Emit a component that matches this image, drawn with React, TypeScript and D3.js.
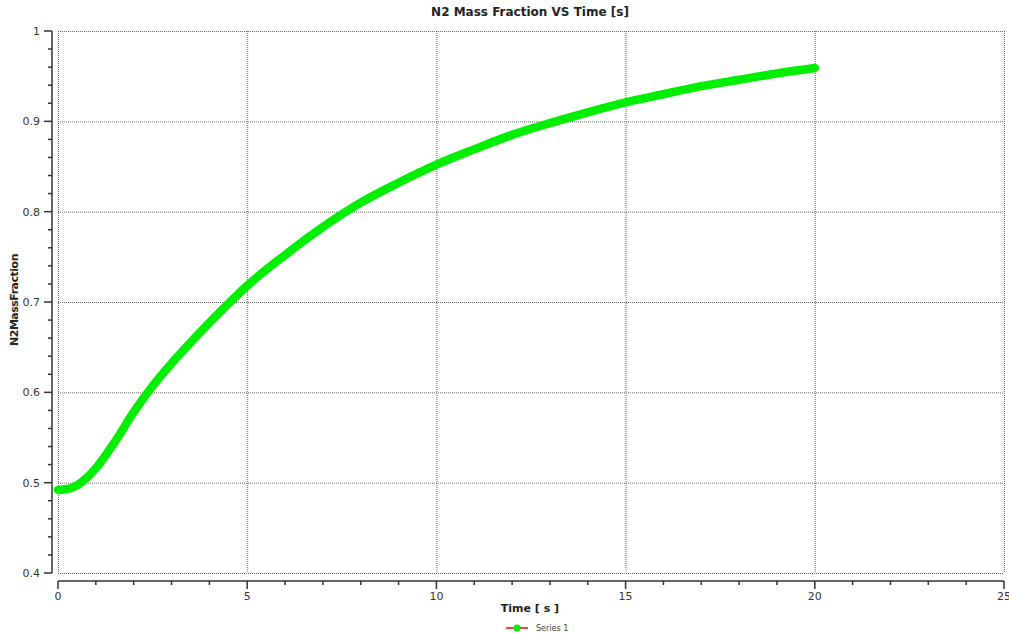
import * as d3 from 'd3';
import { useEffect, useRef } from 'react';

const times = [0, 0.25, 0.5, 0.75, 1, 1.5, 2, 2.5, 3, 3.5, 4, 4.5, 5, 6, 7, 8, 9, 10, 11, 12, 13, 14, 15, 16, 17, 18, 19, 20];
const massFraction = [0.492, 0.493, 0.497, 0.505, 0.516, 0.545, 0.578, 0.607, 0.632, 0.655, 0.677, 0.698, 0.718, 0.752, 0.783, 0.81, 0.832, 0.852, 0.869, 0.885, 0.898, 0.91, 0.921, 0.93, 0.939, 0.946, 0.953, 0.959];
const xTicks = [0, 5, 10, 15, 20, 25];
const yTicks = [0.4, 0.5, 0.6, 0.7, 0.8, 0.9, 1];

export default function App() {
  const ref = useRef<SVGSVGElement>(null);

  useEffect(() => {
    const width = 1009;
    const height = 633;
    const svg = d3.select(ref.current);
    svg.selectAll('*').remove();

    const x = d3.scaleLinear().domain([0, 25]).range([58, 1004]);
    const y = d3.scaleLinear().domain([0.4, 1]).range([573, 31]);
    const font = 'Tahoma, "DejaVu Sans", sans-serif';

    svg.attr('width', width).attr('height', height).style('display', 'block');

    // grid
    const grid = svg.append('g').attr('stroke', '#666').attr('stroke-dasharray', '1,1').attr('stroke-width', 1);
    xTicks.forEach(t => {
      grid.append('line').attr('x1', x(t) + 0.5).attr('x2', x(t) + 0.5).attr('y1', y(1)).attr('y2', y(0.4));
    });
    yTicks.forEach(t => {
      grid.append('line').attr('x1', x(0)).attr('x2', x(25)).attr('y1', y(t) + 0.5).attr('y2', y(t) + 0.5);
    });

    // y axis
    const yAxis = svg.append('g').attr('stroke', '#333').attr('stroke-width', 1.5);
    yAxis.append('line').attr('x1', 52).attr('x2', 52).attr('y1', y(1)).attr('y2', y(0.4));
    d3.range(0.4, 1.0001, 0.02).forEach(v => {
      const major = Math.abs(v * 10 - Math.round(v * 10)) < 1e-6;
      yAxis.append('line').attr('x1', major ? 44 : 48).attr('x2', 52).attr('y1', y(v)).attr('y2', y(v));
    });
    svg.append('g').selectAll('text').data(yTicks).enter().append('text')
      .attr('x', 40).attr('y', d => y(d) + 4)
      .attr('text-anchor', 'end')
      .style('font-family', font).style('font-size', '11px').attr('fill', '#333')
      .text(d => d3.format('')(+d.toFixed(1)));

    // x axis
    const xAxis = svg.append('g').attr('stroke', '#333').attr('stroke-width', 1.5);
    xAxis.append('line').attr('x1', x(0)).attr('x2', x(25)).attr('y1', 581).attr('y2', 581);
    d3.range(0, 25.001, 1).forEach(v => {
      const major = v % 5 === 0;
      xAxis.append('line').attr('x1', x(v)).attr('x2', x(v)).attr('y1', 581).attr('y2', major ? 589 : 585);
    });
    svg.append('g').selectAll('text').data(xTicks).enter().append('text')
      .attr('x', d => x(d)).attr('y', 600)
      .attr('text-anchor', 'middle')
      .style('font-family', font).style('font-size', '11px').attr('fill', '#333')
      .text(d => d);

    // series
    const pts = times.map((t, i) => [t, massFraction[i]] as [number, number]);
    svg.append('path')
      .datum(pts)
      .attr('d', d3.line().x(d => x(d[0])).y(d => y(d[1])).curve(d3.curveMonotoneX))
      .attr('fill', 'none')
      .attr('stroke', '#00ee00')
      .attr('stroke-width', 8.5)
      .attr('stroke-linecap', 'round')
      .attr('stroke-linejoin', 'round');

    // titles
    svg.append('text').attr('x', 530).attr('y', 16).attr('text-anchor', 'middle')
      .style('font-family', font).style('font-size', '12px').style('font-weight', 'bold').attr('fill', '#222')
      .text('N2 Mass Fraction VS Time [s]');
    svg.append('text').attr('x', 530).attr('y', 612).attr('text-anchor', 'middle')
      .style('font-family', font).style('font-size', '11px').style('font-weight', 'bold').attr('fill', '#222')
      .text('Time [ s ]');
    svg.append('text').attr('transform', 'translate(18,300) rotate(-90)').attr('text-anchor', 'middle')
      .style('font-family', font).style('font-size', '11px').style('font-weight', 'bold').attr('fill', '#222')
      .style('letter-spacing', '-0.5px')
      .text('N2MassFraction');

    // legend
    const lg = svg.append('g').attr('transform', 'translate(506,628)');
    lg.append('line').attr('x1', 0).attr('x2', 22).attr('y1', 0).attr('y2', 0).attr('stroke', '#ff0000').attr('stroke-width', 1.5);
    lg.append('circle').attr('cx', 11).attr('cy', 0).attr('r', 3.5).attr('fill', '#00ee00');
    lg.append('text').attr('x', 30).attr('y', 3).style('font-family', font).style('font-size', '8px').attr('fill', '#444').text('Series 1');
  }, []);

  return <svg ref={ref} style={{ position: 'absolute', left: 0, top: 0 }} />;
}
